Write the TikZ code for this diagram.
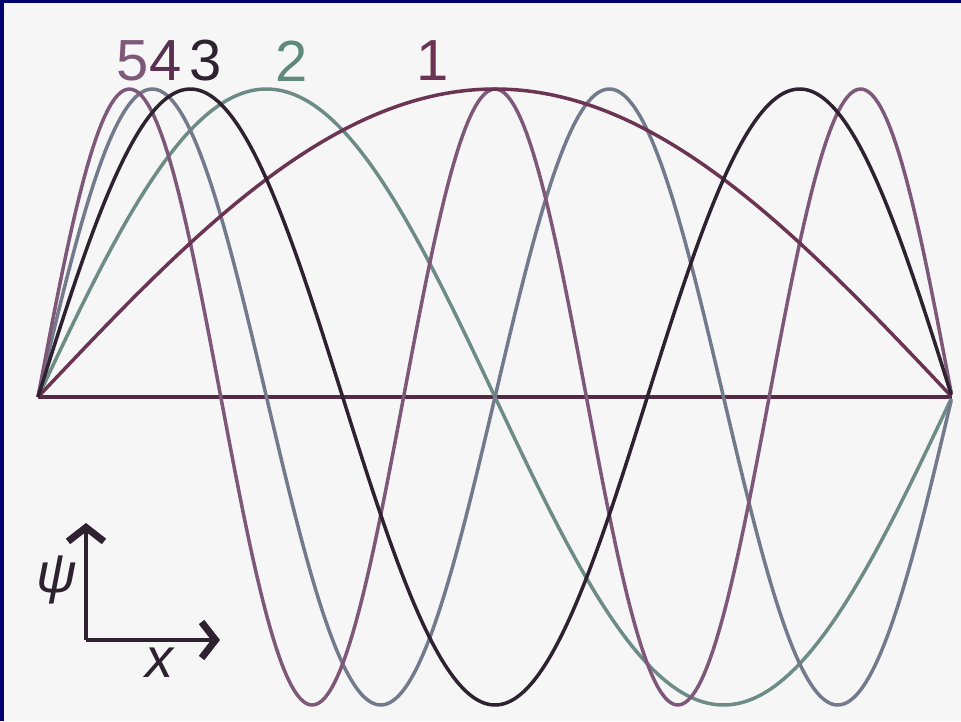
\documentclass[tikz,border=0pt]{standalone}
\usepackage{fontspec}
\setmainfont{Liberation Sans}
\usetikzlibrary{arrows.meta,positioning}

\definecolor{frameblue}{HTML}{00006E}
\definecolor{paper}{HTML}{F6F6F7}
\definecolor{mode1}{HTML}{6B3452}
\definecolor{mode2}{HTML}{6E8C86}
\definecolor{mode3}{HTML}{2E2230}
\definecolor{mode4}{HTML}{737A8C}
\definecolor{mode5}{HTML}{7D5878}
\definecolor{lab4}{HTML}{5A3050}
\definecolor{lab2}{HTML}{5F8A7A}

\begin{document}
\begin{tikzpicture}[
    x=1pt, y=-1pt,
    wave/.style={line width=3.5pt, line join=round},
    digit/.style={font=\fontsize{58}{58}\selectfont, inner sep=0pt},
    axlabel/.style={font=\fontsize{56}{56}\selectfont\itshape, inner sep=0pt, text=mode3},
    axis/.style={line width=3.5pt, draw=mode3, -{Straight Barb[length=14pt,width=36pt,line width=7pt]}}
]
    % paper, with the frame only on the left and at the top
    \useasboundingbox (0,0) rectangle (961,721);
    \fill[paper] (0,0) rectangle (961,721);
    \fill[frameblue] (0,0) rectangle (4,721);
    \fill[frameblue] (0,0) rectangle (961,3);

    % the string and its ends
    \coordinate (left) at (38,397);
    \coordinate (right) at (952,397);
    \draw[line width=3.5pt, mode1!80!black] (left) -- (right);

    % standing waves, n = 1..5
    \foreach \n/\col in {2/mode2, 4/mode4, 5/mode5, 1/mode1, 3/mode3} {
        \draw[wave, \col] plot[domain=0:1, samples=300]
            ({38+914*\x}, {397-308*sin(\n*180*\x)});
    }

    % mode numbers
    \node[digit, text=mode5] (n5) at (133,61) {5};
    \node[digit, text=lab4] (n4) at (166,61) {4};
    \node[digit, text=mode3] (n3) at (206,61) {3};
    \node[digit, text=lab2] (n2) at (292,61) {2};
    \node[digit, text=mode1] (n1) at (433,61) {1};

    % axes
    \coordinate (corner) at (86,640);
    \coordinate (psiend) at (86,523);
    \coordinate (xend) at (220,640);
    \draw[axis] (corner) -- (psiend);
    \draw[axis] (corner) -- (xend);
    \node[axlabel] (psi) at (57,580) {ψ};
    \node[axlabel] (xlab) at (159,663) {x};
\end{tikzpicture}
\end{document}
